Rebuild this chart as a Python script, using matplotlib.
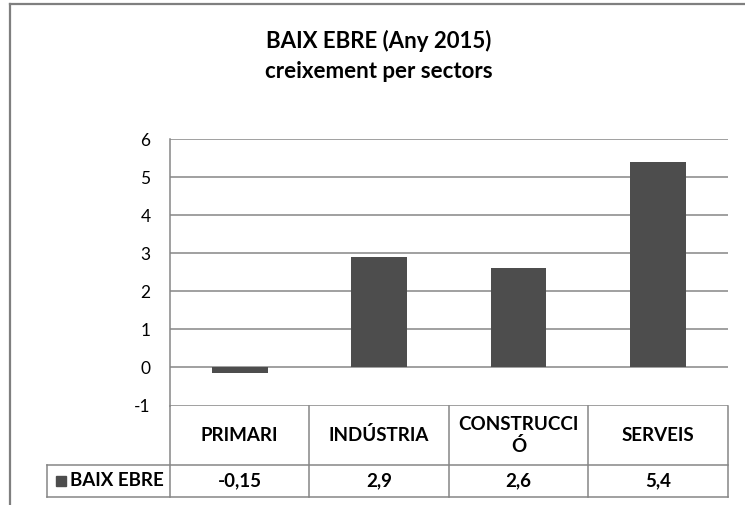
import matplotlib
matplotlib.use("Agg")
import matplotlib.pyplot as plt
from matplotlib.lines import Line2D
from matplotlib.patches import Rectangle

categories = ["PRIMARI", "INDÚSTRIA", "CONSTRUCCI\nÓ", "SERVEIS"]
values = [-0.15, 2.9, 2.6, 5.4]
value_labels = ["-0,15", "2,9", "2,6", "5,4"]
series_name = "BAIX EBRE"
yticks = [-1, 0, 1, 2, 3, 4, 5, 6]

W, H = 745, 505
fig = plt.figure(figsize=(W / 100, H / 100), dpi=100)
plt.rcParams['font.family'] = ['Lato', 'DejaVu Sans']

bar_color = "#4d4d4d"
grid_color = "#868686"
frame_color = "#7f7f7f"

def fx(px):
    return px / W

def fy(py):
    return 1 - py / H

left, right, top, bottom = 170, 727.5, 139, 405.5
ax = fig.add_axes([fx(left), fy(bottom), fx(right - left), (bottom - top) / H])
x = list(range(len(categories)))
ax.bar(x, values, width=0.4, color=bar_color, zorder=3)
ax.set_xlim(-0.5, len(categories) - 0.5)
ax.set_ylim(-1, 6)
ax.set_yticks(yticks)
ax.set_yticklabels([str(t) for t in yticks], fontsize=12.5, color="#000000")
ax.tick_params(axis="y", length=0, pad=14)
ax.set_xticks([])
for t in yticks:
    ax.axhline(t, color=grid_color, lw=1.1, zorder=1)
for s in ["top", "right", "bottom"]:
    ax.spines[s].set_visible(False)
ax.spines["left"].set_color(grid_color)
ax.spines["left"].set_linewidth(1.1)

# outer chart frame
fig.add_artist(Line2D([fx(9.5), fx(9.5)], [fy(4), 0], color=frame_color, lw=1.6))
fig.add_artist(Line2D([fx(9.5), 1], [fy(4), fy(4)], color=frame_color, lw=1.6))

# title
fig.text(fx(379), fy(41), "BAIX EBRE (Any 2015)", ha="center", va="center",
         fontsize=16, fontweight="bold")
fig.text(fx(379), fy(72), "creixement per sectors", ha="center", va="center",
         fontsize=16, fontweight="bold")

# data table
row_sep = 465
tab_bottom = 496.5
leg_left = 46.7
lc = grid_color
lw = 1.1
fig.add_artist(Line2D([fx(leg_left), fx(right)], [fy(row_sep), fy(row_sep)], color=lc, lw=lw))
fig.add_artist(Line2D([fx(leg_left), fx(right)], [fy(tab_bottom), fy(tab_bottom)], color=lc, lw=lw))
fig.add_artist(Line2D([fx(leg_left), fx(leg_left)], [fy(row_sep), fy(tab_bottom)], color=lc, lw=lw))
fig.add_artist(Line2D([fx(left), fx(left)], [fy(bottom), fy(tab_bottom)], color=lc, lw=lw))
colw = (right - left) / len(categories)
for i in range(1, len(categories) + 1):
    xx = left + i * colw
    fig.add_artist(Line2D([fx(xx), fx(xx)], [fy(bottom), fy(tab_bottom)], color=lc, lw=lw))
for i, (c, v) in enumerate(zip(categories, value_labels)):
    cx = left + (i + 0.5) * colw
    fig.text(fx(cx), fy((bottom + row_sep) / 2), c, ha="center", va="center",
             fontsize=13.5, fontweight="bold", linespacing=1.3)
    fig.text(fx(cx), fy((row_sep + tab_bottom) / 2), v, ha="center", va="center",
             fontsize=13.5, fontweight="bold")
fig.add_artist(Rectangle((fx(56), fy(486)), fx(10), 10 / H, color=bar_color))
fig.text(fx(70), fy((row_sep + tab_bottom) / 2), series_name, ha="left", va="center",
         fontsize=13.5, fontweight="bold")

fig.savefig("out.png", dpi=100)
